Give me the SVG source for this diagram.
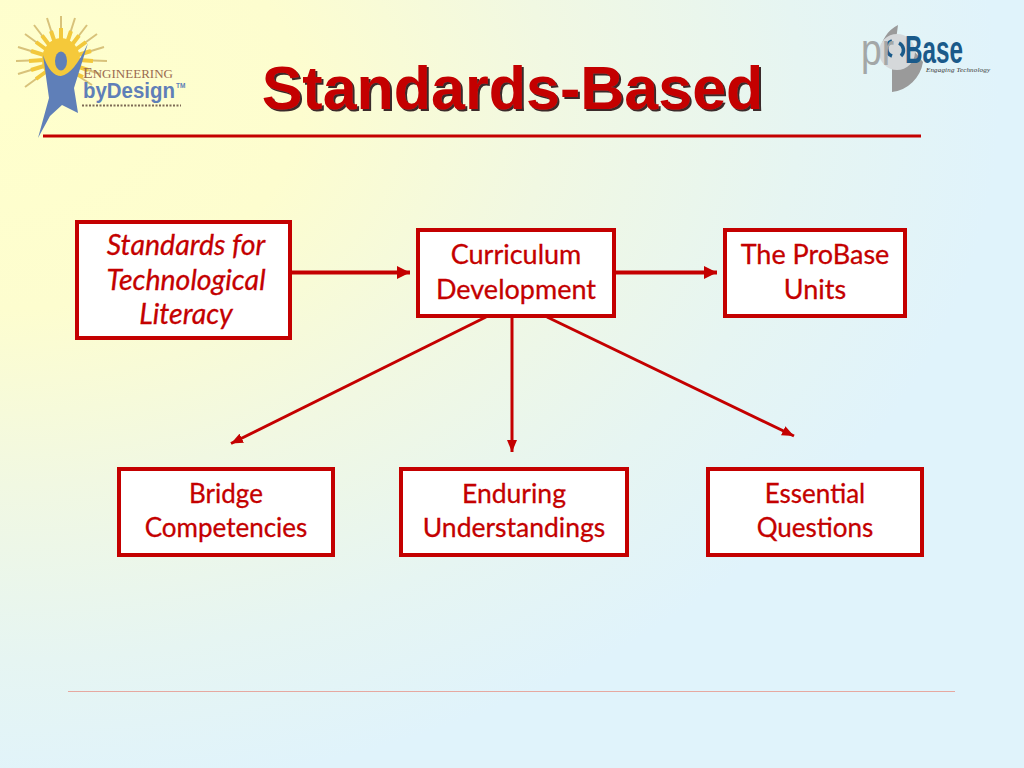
<svg xmlns="http://www.w3.org/2000/svg" width="1024" height="768" viewBox="0 0 1024 768">
<style>
.box{fill:#fff;stroke:#c40000;stroke-width:4}
.lbl{font-family:"Lato","Noto Sans",sans-serif;font-size:26px;fill:#c40000;stroke:#c40000;stroke-width:.3;text-anchor:middle}
.mid{font-size:26.500px}
.big{font-size:27px}
.it{font-style:italic;font-size:28.500px}
.con{stroke:#c40000;stroke-width:3;fill:none;marker-end:url(#ah)}
.conh{stroke:#c40000;stroke-width:4;fill:none;marker-end:url(#ahb)}
.ttl{font-family:"Liberation Sans",Arial,sans-serif;font-weight:bold;font-size:61px;text-anchor:middle;fill:#c40000;filter:url(#sh)}
.ray{stroke:#d8c27a;stroke-width:2;fill:none}
.rayi{stroke:#f2c83c;stroke-width:4;fill:none}
</style>
<defs>
<radialGradient id="bg" gradientUnits="userSpaceOnUse" cx="0" cy="0" r="1" gradientTransform="translate(0 100) scale(1000 700)">
<stop offset="0" stop-color="#ffffcc"/><stop offset="0.3" stop-color="#fdfdcf"/><stop offset="0.55" stop-color="#f1f8e2"/><stop offset="0.8" stop-color="#e6f5f2"/><stop offset="1" stop-color="#e0f3fb"/>
</radialGradient>
<filter id="sh" x="-5%" y="-10%" width="110%" height="125%"><feDropShadow dx="2" dy="2" stdDeviation="0.6" flood-color="#3a2a2a"/></filter>
<marker id="ah" viewBox="0 0 12 10" refX="12" refY="5" markerUnits="userSpaceOnUse" markerWidth="12" markerHeight="10" orient="auto"><path d="M0 0L12 5L0 10Z" fill="#c40000"/></marker>
<marker id="ahb" viewBox="0 0 13 13" refX="13" refY="6.500" markerUnits="userSpaceOnUse" markerWidth="13" markerHeight="13" orient="auto"><path d="M0 0L13 6.500L0 13Z" fill="#c40000"/></marker>
</defs>
<rect width="1024" height="768" fill="url(#bg)"/>
<g id="logo-left">
<path class="ray" d="M61 42L61 16M55 43L47 18M50 46L34 25M47 50L25 34M44 55L18 47M43 60L16 61M44 66L18 74M47 71L25 87M67 43L75 18M71 46L87 25M75 50L97 34M78 55L104 47M79 60L107 61M76 66L100 74M72 72L92 85"/>
<path class="rayi" d="M61 42L61 28M55 43L51 31M50 46L42 35.500M47 50L36 42M44 55L31 51M43 60L29 61M44 66L31 70M47 71L36 79M67 43L71 31M71 46L79 35.500M75 50L86 42M78 55L91 51M79 60L93 61M76 66L88 70M72 72L83 77"/>
<ellipse cx="61" cy="60" rx="19" ry="22" fill="#f5c93a"/>
<path d="M43 55Q50 76 61 76Q74 74 88 43L74 88L78 113L62 105L50 116L38 138L49 98Z" fill="#5f7fb8"/>
<ellipse cx="61" cy="61" rx="6" ry="9.500" fill="#5f7fb8"/>
<text x="83" y="78" font-family="Liberation Serif,serif" font-size="14" fill="#9a6a50" textLength="90" lengthAdjust="spacingAndGlyphs">E<tspan font-size="11.500">NGINEERING</tspan></text>
<text x="83" y="98" font-family="Liberation Sans,sans-serif" font-weight="bold" font-size="22" fill="#5f7fb8" textLength="92" lengthAdjust="spacingAndGlyphs">byDesign</text>
<text x="176" y="88" font-family="Liberation Sans,sans-serif" font-weight="bold" font-size="6.500" fill="#5f7fb8">TM</text>
<line x1="82" y1="105.500" x2="181" y2="105.500" stroke="#7d6a55" stroke-width="2" stroke-dasharray="2 1.500"/>
</g>
<g id="logo-right">
<path d="M898 25A33 33 0 0 0 880 52L915 52L923 62A36 36 0 0 1 892 92L892 70Z" fill="#9a9a9a"/>
<circle cx="897" cy="52" r="18" fill="#d5d8da"/>
<path d="M892 41A8 8 0 0 0 892 56M899 43A8 8 0 0 1 901 56" fill="none" stroke="#1a5a8a" stroke-width="3.500"/>
<text x="861" y="65" font-family="Liberation Sans,sans-serif" font-size="44" fill="#a3a7a7" textLength="33" lengthAdjust="spacingAndGlyphs">pr</text>
<text x="905" y="63" font-family="Liberation Sans,sans-serif" font-weight="bold" font-size="38" fill="#1a5a8a" textLength="58" lengthAdjust="spacingAndGlyphs">Base</text>
<text x="926" y="72" font-family="Liberation Serif,serif" font-style="italic" font-size="7" fill="#333" textLength="64">Engaging Technology</text>
</g>
<text class="ttl" x="512.500" y="108.500">Standards-Based</text>
<line x1="43" y1="136" x2="921" y2="136" stroke="#c40000" stroke-width="3"/>
<line x1="68" y1="691.500" x2="955" y2="691.500" stroke="#e6a8a0" stroke-width="1"/>
<g id="connectors">
<line class="conh" x1="292" y1="272.500" x2="410" y2="272.500"/>
<line class="conh" x1="616" y1="272.500" x2="717" y2="272.500"/>
<line class="con" x1="486" y1="317" x2="231" y2="443.500"/>
<line class="con" x1="512" y1="318" x2="512" y2="452"/>
<line class="con" x1="547" y1="317" x2="794" y2="436"/>
</g>
<g id="node-standards"><rect class="box" x="77" y="222" width="213" height="116"/>
<text class="lbl it" x="186" y="255">Standards for</text><text class="lbl it" x="186" y="290">Technological</text><text class="lbl it" x="186" y="324">Literacy</text></g>
<g id="node-curriculum"><rect class="box" x="418" y="230" width="196" height="86"/>
<text class="lbl big" x="516" y="264">Curriculum</text><text class="lbl big" x="516" y="299">Development</text></g>
<g id="node-probase"><rect class="box" x="725" y="230" width="180" height="86"/>
<text class="lbl big" x="815" y="264">The ProBase</text><text class="lbl big" x="815" y="299">Units</text></g>
<g id="node-bridge"><rect class="box" x="119" y="469" width="214" height="86"/>
<text class="lbl" x="226" y="503">Bridge</text><text class="lbl" x="226" y="537">Competencies</text></g>
<g id="node-enduring"><rect class="box" x="401" y="469" width="226" height="86"/>
<text class="lbl mid" x="514" y="503">Enduring</text><text class="lbl mid" x="514" y="537">Understandings</text></g>
<g id="node-essential"><rect class="box" x="708" y="469" width="214" height="86"/>
<text class="lbl" x="815" y="503">Essential</text><text class="lbl" x="815" y="537">Questions</text></g>
</svg>
